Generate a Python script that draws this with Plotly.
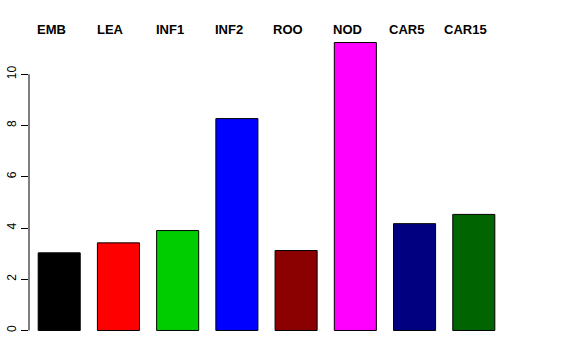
import plotly.graph_objects as go

categories = ["EMB", "LEA", "INF1", "INF2", "ROO", "NOD", "CAR5", "CAR15"]
values = [3.03, 3.42, 3.90, 8.27, 3.12, 11.24, 4.17, 4.53]
colors = ["#000000", "#FF0000", "#00CD00", "#0000FF", "#8B0000", "#FF00FF", "#000080", "#006400"]
y_ticks = [0, 2, 4, 6, 8, 10]

fig = go.Figure()
fig.add_trace(go.Bar(
    x=categories, y=values,
    marker=dict(color=colors, line=dict(color="#000000", width=1)),
    showlegend=False, hoverinfo="x+y",
))

for c in categories:
    fig.add_annotation(
        x=c, xref="x", y=1.0064, yref="paper", yanchor="middle",
        text="<b>%s</b>" % c, showarrow=False, xshift=-8,
        font=dict(family="Liberation Sans, Arial, sans-serif", size=13, color="#000000"),
    )

fig.add_shape(type="line", xref="paper", yref="y", x0=0, x1=0,
              y0=min(y_ticks), y1=max(y_ticks), line=dict(color="#000000", width=1))

fig.update_layout(
    width=576, height=360,
    margin=dict(l=29, r=72, t=31, b=17.5, pad=0, autoexpand=False),
    paper_bgcolor="white", plot_bgcolor="white",
    bargap=0.29,
    font=dict(family="Liberation Sans, Arial, sans-serif", size=12, color="#000000"),
    xaxis=dict(range=[-0.51, 7.51], showticklabels=False, showline=False,
               showgrid=False, zeroline=False, ticks="", automargin=False),
    yaxis=dict(range=[-0.45, 11.69], tickvals=y_ticks, ticktext=[str(v) for v in y_ticks],
               ticks="outside", ticklen=7, tickcolor="#000000", tickangle=-90,
               showline=False, showgrid=False, zeroline=False, automargin=False,
               tickfont=dict(size=12)),
)

fig.write_html("out.html", config={"displayModeBar": False},
               post_script="document.body.style.margin='0';document.body.style.padding='0';document.body.style.overflow='hidden';")
